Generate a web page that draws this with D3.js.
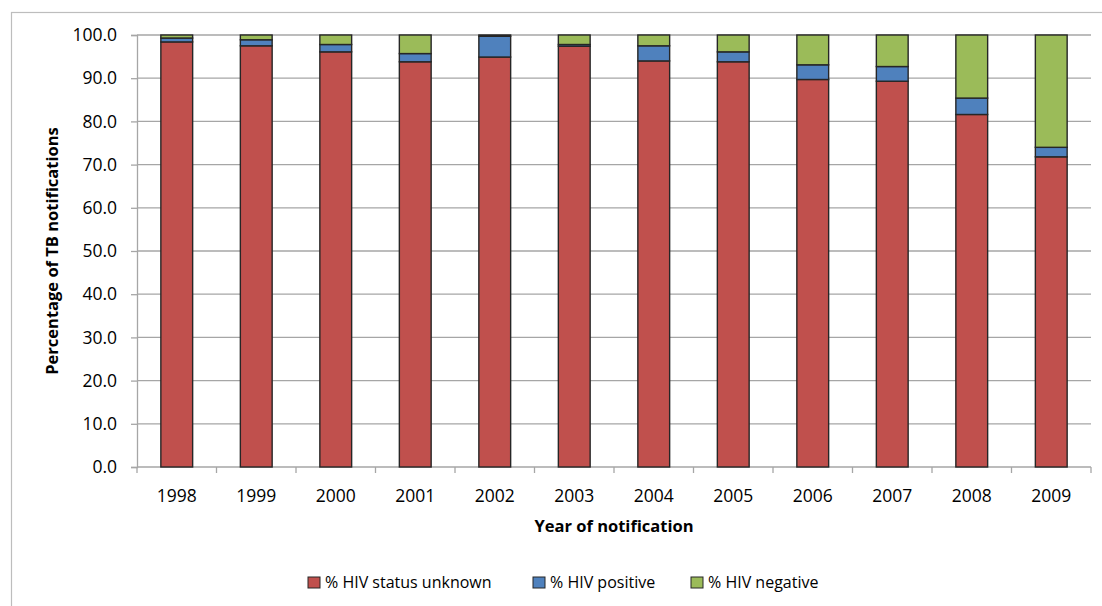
<!DOCTYPE html>
<html>
<head>
<meta charset="utf-8">
<script src="https://cdn.jsdelivr.net/npm/d3@7"></script>
<style>
  html, body { margin: 0; padding: 0; background: #fff; }
  svg { display: block; font-family: "Open Sans", "Liberation Sans", sans-serif; }
</style>
</head>
<body>
<svg id="chart" width="1102" height="606"></svg>
<script>
// Share of TB notifications by HIV status, per year
const years = ["1998","1999","2000","2001","2002","2003","2004","2005","2006","2007","2008","2009"];
const hivUnknown  = [98.4, 97.5, 96.1, 93.8, 94.9, 97.4, 94.0, 93.8, 89.7, 89.3, 81.6, 71.8];
const hivPositive = [0.9, 1.4, 1.7, 1.9, 4.8, 0.4, 3.5, 2.3, 3.4, 3.4, 3.8, 2.2];
const hivNegative = [0.7, 1.1, 2.2, 4.3, 0.3, 2.2, 2.5, 3.9, 6.9, 7.3, 14.6, 26.0];
const seriesNames = ["% HIV status unknown", "% HIV positive", "% HIV negative"];
const seriesColors = ["#C0504D", "#4F81BD", "#9BBB59"];
const yTicks = [0, 10, 20, 30, 40, 50, 60, 70, 80, 90, 100];

const keys = ["unknown", "positive", "negative"];
const rows = years.map((y, i) => ({
  year: y, unknown: hivUnknown[i], positive: hivPositive[i], negative: hivNegative[i]
}));

const svg = d3.select("#chart");
const margin = { left: 137, right: 1091, top: 35, bottom: 467 };

// outer chart frame
svg.append("rect")
  .attr("x", 11.5).attr("y", 12.5)
  .attr("width", 1200).attr("height", 700)
  .attr("fill", "none").attr("stroke", "#bdbdbd").attr("stroke-width", 1.2);

const x = d3.scaleBand().domain(years).range([margin.left, margin.right]).paddingInner(0.6).paddingOuter(0.3);
const y = d3.scaleLinear().domain([0, 100]).range([margin.bottom, margin.top]);

// horizontal gridlines
svg.append("g")
  .selectAll("line").data(yTicks.filter(t => t > 0)).join("line")
  .attr("x1", margin.left).attr("x2", margin.right)
  .attr("y1", d => y(d)).attr("y2", d => y(d))
  .attr("stroke", "#a6a6a6").attr("stroke-width", 1.3);

// y axis
const yAxis = svg.append("g")
  .attr("transform", `translate(${margin.left},0)`)
  .call(d3.axisLeft(y).tickValues(yTicks).tickFormat(d3.format(".1f")).tickSize(6).tickPadding(14));
yAxis.select(".domain").attr("stroke", "#a6a6a6").attr("stroke-width", 1.3);
yAxis.selectAll(".tick line").attr("stroke", "#a6a6a6").attr("stroke-width", 1.3);
yAxis.selectAll(".tick text").attr("font-size", 17.5).attr("fill", "#000")
  .attr("font-family", "'Open Sans', sans-serif");

// x axis with ticks on category boundaries
const xAxisG = svg.append("g").attr("transform", `translate(0,${margin.bottom})`);
xAxisG.append("line")
  .attr("x1", margin.left).attr("x2", margin.right)
  .attr("stroke", "#a6a6a6").attr("stroke-width", 1.3);
const boundaries = d3.range(years.length + 1).map(i => margin.left + i * (margin.right - margin.left) / years.length);
xAxisG.selectAll("line.bt").data(boundaries).join("line")
  .attr("class", "bt")
  .attr("x1", d => d).attr("x2", d => d).attr("y1", 0).attr("y2", 6)
  .attr("stroke", "#a6a6a6").attr("stroke-width", 1.3);
xAxisG.selectAll("text").data(years).join("text")
  .attr("x", d => x(d) + x.bandwidth() / 2)
  .attr("y", 35)
  .attr("text-anchor", "middle")
  .attr("font-size", 17.5).attr("fill", "#000")
  .text(d => d);

// stacked bars
const stack = d3.stack().keys(keys)(rows);
svg.append("g")
  .selectAll("g").data(stack).join("g")
  .attr("fill", (d, i) => seriesColors[i])
  .selectAll("rect").data(d => d).join("rect")
  .attr("x", d => x(d.data.year))
  .attr("width", x.bandwidth())
  .attr("y", d => y(d[1]))
  .attr("height", d => y(d[0]) - y(d[1]))
  .attr("stroke", "#262626").attr("stroke-width", 1.4);

// axis titles
svg.append("text")
  .attr("transform", "translate(58,251) rotate(-90)")
  .attr("text-anchor", "middle")
  .attr("font-size", 16.5).attr("font-weight", "bold").attr("fill", "#000")
  .text("Percentage of TB notifications");

svg.append("text")
  .attr("x", 614).attr("y", 532)
  .attr("text-anchor", "middle")
  .attr("font-size", 16.5).attr("font-weight", "bold").attr("fill", "#000")
  .text("Year of notification");

// legend
const legendX = [308, 533, 691];
const legend = svg.append("g");
seriesNames.forEach((name, i) => {
  const g = legend.append("g").attr("transform", `translate(${legendX[i]},577)`);
  g.append("rect").attr("width", 12).attr("height", 11)
    .attr("fill", seriesColors[i]).attr("stroke", "#262626").attr("stroke-width", 1);
  g.append("text").attr("x", 17).attr("y", 11)
    .attr("font-size", 16).attr("fill", "#000")
    .text(name);
});
</script>
</body>
</html>
